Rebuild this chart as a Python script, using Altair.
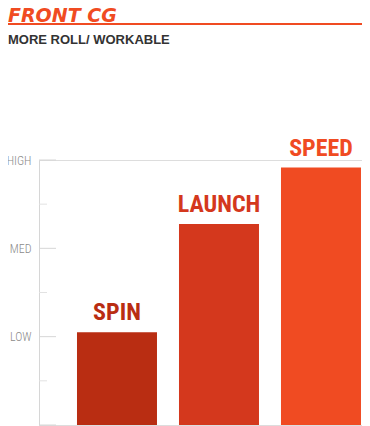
import altair as alt
import pandas as pd

# ---- data ----
categories = ["SPIN", "LAUNCH", "SPEED"]
values = [2.1, 4.55, 5.83]
bar_colors = ["#b92d12", "#d4381d", "#f04b22"]

level_labels = ["LOW", "MED", "HIGH"]
level_values = [2, 4, 6]
major_ticks = [0, 2, 4, 6]
minor_ticks = [1, 3, 5]

title_text = "FRONT CG"
subtitle_text = "MORE ROLL/ WORKABLE"

BAR_FONT = "'Roboto Condensed', 'DejaVu Sans Condensed', sans-serif"
AX_FONT = "'Roboto Condensed', 'DejaVu Sans Condensed', sans-serif"

df = pd.DataFrame({"cat": categories, "val": values, "color": bar_colors})
ticks_df = pd.DataFrame({"v": major_ticks + minor_ticks,
                         "kind": ["major"] * len(major_ticks) + ["minor"] * len(minor_ticks)})
label_map = "{" + ", ".join(f"'{v}': '{l}'" for v, l in zip(level_values, level_labels)) + "}"

W, H = 323, 265

xscale = alt.Scale(domain=categories, paddingInner=0.2157, paddingOuter=0.1912, align=0.974)
yscale = alt.Scale(domain=[0, 6], nice=False, zero=True)

bars = alt.Chart(df).mark_bar(stroke=None).encode(
    x=alt.X("cat:N", scale=xscale, axis=None, sort=categories),
    y=alt.Y("val:Q", scale=yscale,
            axis=alt.Axis(values=level_values, labelExpr=f"{label_map}[datum.value]",
                          ticks=False, grid=False, domain=True, domainColor="#d6d6d6",
                          domainWidth=1, labelFont=AX_FONT, labelFontSize=12,
                          labelFontWeight=300, labelColor="#8a8a8a",
                          labelPadding=8, title=None)),
    color=alt.Color("color:N", scale=None),
)

labels = alt.Chart(df).mark_text(
    baseline="bottom", align="center", dy=-7, fontSize=24, fontWeight="bold", font=BAR_FONT
).encode(
    x=alt.X("cat:N", scale=xscale, axis=None, sort=categories),
    y=alt.Y("val:Q", scale=yscale),
    text="cat:N",
    color=alt.Color("color:N", scale=None),
)

major = alt.Chart(ticks_df).transform_filter("datum.kind == 'major'").mark_rule(
    color="#d6d6d6", strokeWidth=1
).encode(y=alt.Y("v:Q", scale=yscale), x=alt.value(0), x2=alt.value(17))

minor = alt.Chart(ticks_df).transform_filter("datum.kind == 'minor'").mark_rule(
    color="#e2e2e2", strokeWidth=1
).encode(y=alt.Y("v:Q", scale=yscale), x=alt.value(0), x2=alt.value(8))

head_df = pd.DataFrame({"t": [title_text]})
title = alt.Chart(head_df).mark_text(
    align="left", baseline="alphabetic", fontSize=19, fontWeight="bold", fontStyle="italic",
    font="DejaVu Sans", color="#f04b22"
).encode(text="t:N", x=alt.value(-31), y=alt.value(-138))

line = alt.Chart(head_df).mark_rule(color="#f04b22", strokeWidth=2).encode(
    x=alt.value(-31), x2=alt.value(W), y=alt.value(-136))

sub_df = pd.DataFrame({"t": [subtitle_text]})
subtitle = alt.Chart(sub_df).mark_text(
    align="left", baseline="alphabetic", fontSize=13, fontWeight="bold",
    font="Liberation Sans", color="#333333"
).encode(text="t:N", x=alt.value(-31), y=alt.value(-116))

chart = alt.layer(minor, major, bars, labels, title, line, subtitle).properties(
    width=W, height=H,
    autosize=alt.AutoSizeParams(type="none"),
    padding={"left": 31, "top": 152, "right": 0, "bottom": 1},
).configure_view(stroke=None).configure(background="white")

chart.save("out.html", embed_options={"renderer": "svg", "actions": False})
